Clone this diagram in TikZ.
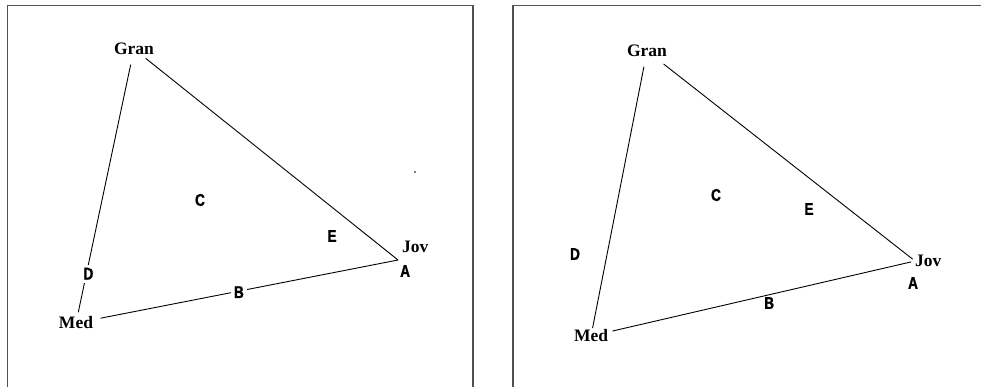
\documentclass[tikz,border=0pt]{standalone}
\usepackage{fontspec}
\setmainfont{Liberation Serif}
\newfontfamily\zonefont[FakeStretch=0.8, FakeBold=1.2]{Liberation Sans}
\usetikzlibrary{positioning}
\definecolor{framegrey}{HTML}{505050}

\begin{document}
\begin{tikzpicture}[x=1pt, y=-1pt,
  place/.style={font=\fontsize{17.5}{17.5}\selectfont\bfseries, inner sep=0pt},
  zone/.style={font=\zonefont\fontsize{17}{17}\selectfont\bfseries, inner sep=1pt},
  side/.style={line width=0.9pt},
  panel/.style={draw=framegrey, line width=1.6pt}]
  \useasboundingbox (0,0) rectangle (981,387);

  % left panel
  \draw[panel] (7.5,400) |- (473,5.5) -- (473,400);
  \node[place] (granL) at (134,49) {Gran};
  \node[place] (medL) at (76,323) {Med};
  \coordinate (jovL) at (398,260);
  \node[place, above right=7pt and 4pt of jovL] (jovnameL) {Jov};
  \node[zone, below right=4pt and 1pt of jovL] (zoneAL) {A};
  \draw[side, shorten <=16pt, shorten >=11pt] (granL.center) --
    node[zone, fill=white, pos=0.82, xshift=2pt, inner sep=3pt] (zoneDL) {D} (medL.center);
  \draw[side, shorten <=15pt] (granL.center) -- (jovL);
  \draw[side, shorten <=25pt] (medL.center) --
    node[zone, fill=white, pos=0.506, yshift=-1pt, inner sep=3pt] (zoneBL) {B} (jovL);
  \node[zone] (zoneCL) at (200,200) {C};
  \node[zone] (zoneEL) at (332,236) {E};
  \fill (415,172) circle (0.8pt);

  % right panel
  \draw[panel] (513,400) |- (990,5.5);
  \node[place] (granR) at (647,51) {Gran};
  \node[place] (medR) at (591,336) {Med};
  \node[place, anchor=west] (jovR) at (915,261) {Jov};
  \draw[side, shorten <=16pt, shorten >=8pt] (granR.center) -- (medR.center);
  \draw[side, shorten <=21pt, shorten >=3pt] (granR.center) -- (jovR.west);
  \draw[side, shorten <=22pt, shorten >=4pt] (medR.center) --
    node[zone, pos=0.55, below=1pt] (zoneBR) {B} (jovR.west);
  \node[zone] (zoneAR) at (913,283) {A};
  \node[zone] (zoneCR) at (716,195) {C};
  \node[zone] (zoneER) at (809,209) {E};
  \node[zone] (zoneDR) at (575,254) {D};
\end{tikzpicture}
\end{document}
